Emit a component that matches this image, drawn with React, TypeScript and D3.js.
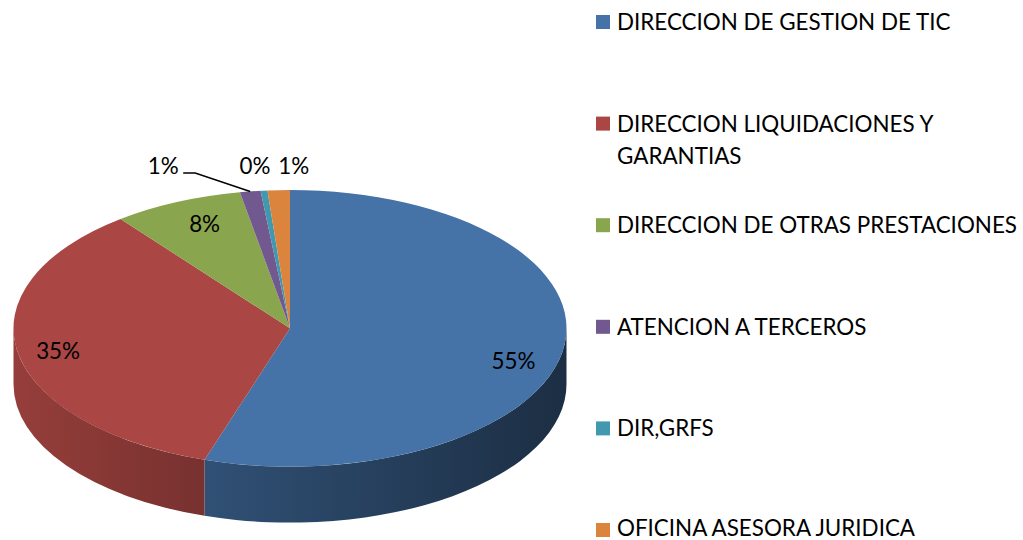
import React from "react";
import * as d3 from "d3";

const categories = [
  "DIRECCION DE GESTION DE TIC",
  "DIRECCION LIQUIDACIONES Y GARANTIAS",
  "DIRECCION DE OTRAS PRESTACIONES",
  "ATENCION A TERCEROS",
  "DIR,GRFS",
  "OFICINA ASESORA JURIDICA",
];
const values = [55.0, 34.5, 7.6, 1.2, 0.4, 1.3];
const colors = ["#4572A7", "#AA4643", "#89A54E", "#71588F", "#4198AF", "#DB843D"];
const legendLines = [
  ["DIRECCION DE GESTION DE TIC"],
  ["DIRECCION LIQUIDACIONES Y", "GARANTIAS"],
  ["DIRECCION DE OTRAS PRESTACIONES"],
  ["ATENCION A TERCEROS"],
  ["DIR,GRFS"],
  ["OFICINA ASESORA JURIDICA"],
];

const W = 1023;
const H = 540;
const cx = 290;
const cy = 328.3;
const rx = 276.5;
const ry = 138.3;
const depth = 56;
const FONT = "Lato, 'Open Sans', sans-serif";
const FS = 22.4;

function pt(a: number, dy = 0): [number, number] {
  return [cx + rx * Math.sin(a), cy - ry * Math.cos(a) + dy];
}

function shade(c: string, k: number) {
  const col = d3.rgb(c);
  return d3.rgb(col.r * k, col.g * k, col.b * k).formatHex();
}

export default function App() {
  const pie = d3
    .pie<number>()
    .sort(null)
    .startAngle(0)
    .endAngle(2 * Math.PI)
    .value((d) => d);
  const arcs = pie(values);
  const total = d3.sum(values);

  const topPath = (a0: number, a1: number) => {
    const p0 = pt(a0);
    const p1 = pt(a1);
    const large = a1 - a0 > Math.PI ? 1 : 0;
    return `M${cx},${cy}L${p0[0]},${p0[1]}A${rx},${ry} 0 ${large} 1 ${p1[0]},${p1[1]}Z`;
  };
  const sidePath = (a0: number, a1: number) => {
    const b0 = Math.max(a0, Math.PI / 2);
    const b1 = Math.min(a1, (3 * Math.PI) / 2);
    if (b1 <= b0) return null;
    const p0 = pt(b0);
    const p1 = pt(b1);
    const q0 = pt(b0, depth);
    const q1 = pt(b1, depth);
    return `M${p0[0]},${p0[1]}A${rx},${ry} 0 0 1 ${p1[0]},${p1[1]}L${q1[0]},${q1[1]}A${rx},${ry} 0 0 0 ${q0[0]},${q0[1]}Z`;
  };

  // label placement: inside for big slices, outside (above) for small ones
  const labelNudge = [
    { dx: 5, dy: 15 },
    { dx: -14, dy: 3 },
    { dx: 5, dy: -4 },
    { dx: -87, dy: 0 },
    { dx: -9, dy: 0 },
    { dx: 15, dy: 0 },
  ];

  const legendX = 596;
  const legendY0 = 22;
  const legendStep = 101.6;
  const sq = 14;

  return (
    <svg
      width={W}
      height={H}
      style={{ position: "absolute", left: 0, top: 0, background: "#fff" }}
      fontFamily={FONT}
    >
      <defs>
        {colors.map((c, i) => (
          <linearGradient
            key={i}
            id={`side${i}`}
            gradientUnits="userSpaceOnUse"
            x1={cx - rx}
            x2={cx + rx}
            y1={0}
            y2={0}
          >
            <stop offset="0" stopColor={shade(c, 0.88)} />
            <stop offset="0.35" stopColor={shade(c, 0.7)} />
            <stop offset="1" stopColor={shade(c, 0.4)} />
          </linearGradient>
        ))}
      </defs>
      {arcs.map((a, i) => {
        const d = sidePath(a.startAngle, a.endAngle);
        return d ? <path key={`s${i}`} d={d} fill={`url(#side${i})`} /> : null;
      })}
      {arcs.map((a, i) => (
        <path key={`t${i}`} d={topPath(a.startAngle, a.endAngle)} fill={colors[i]} />
      ))}
      {arcs.map((a, i) => {
        const mid = (a.startAngle + a.endAngle) / 2;
        const pct = Math.round((values[i] / total) * 100) + "%";
        const small = values[i] / total < 0.03;
        const n = labelNudge[i];
        if (!small) {
          const x = cx + 0.8 * rx * Math.sin(mid) + n.dx;
          const y = cy - 0.8 * ry * Math.cos(mid) + n.dy;
          return (
            <text key={`l${i}`} x={x} y={y} fontSize={FS} textAnchor="middle" dominantBaseline="central" fill="#000">
              {pct}
            </text>
          );
        }
        const [ex, ey] = pt(mid);
        const x = ex + n.dx;
        const y = cy - 1.18 * ry;
        const out: any[] = [
          <text key={`l${i}`} x={x} y={y} fontSize={FS} textAnchor="middle" dominantBaseline="central" fill="#000">
            {pct}
          </text>,
        ];
        if (Math.abs(n.dx) > 40) {
          const lx = x + 20;
          out.push(
            <polyline
              key={`ll${i}`}
              points={`${lx},${y + 8} ${lx + 12},${y + 8} ${ex},${ey}`}
              fill="none"
              stroke="#000"
              strokeWidth={1.5}
            />
          );
        }
        return out;
      })}
      {categories.map((c, i) => {
        const yc = legendY0 + i * legendStep;
        return (
          <g key={`g${i}`}>
            <rect x={legendX} y={yc - sq / 2} width={sq} height={sq} fill={colors[i]} />
            {legendLines[i].map((ln, j) => (
              <text key={j} x={617} y={Math.min(yc + 8 + j * 32, 536)} fontSize={FS} fill="#000">
                {ln}
              </text>
            ))}
          </g>
        );
      })}
    </svg>
  );
}
